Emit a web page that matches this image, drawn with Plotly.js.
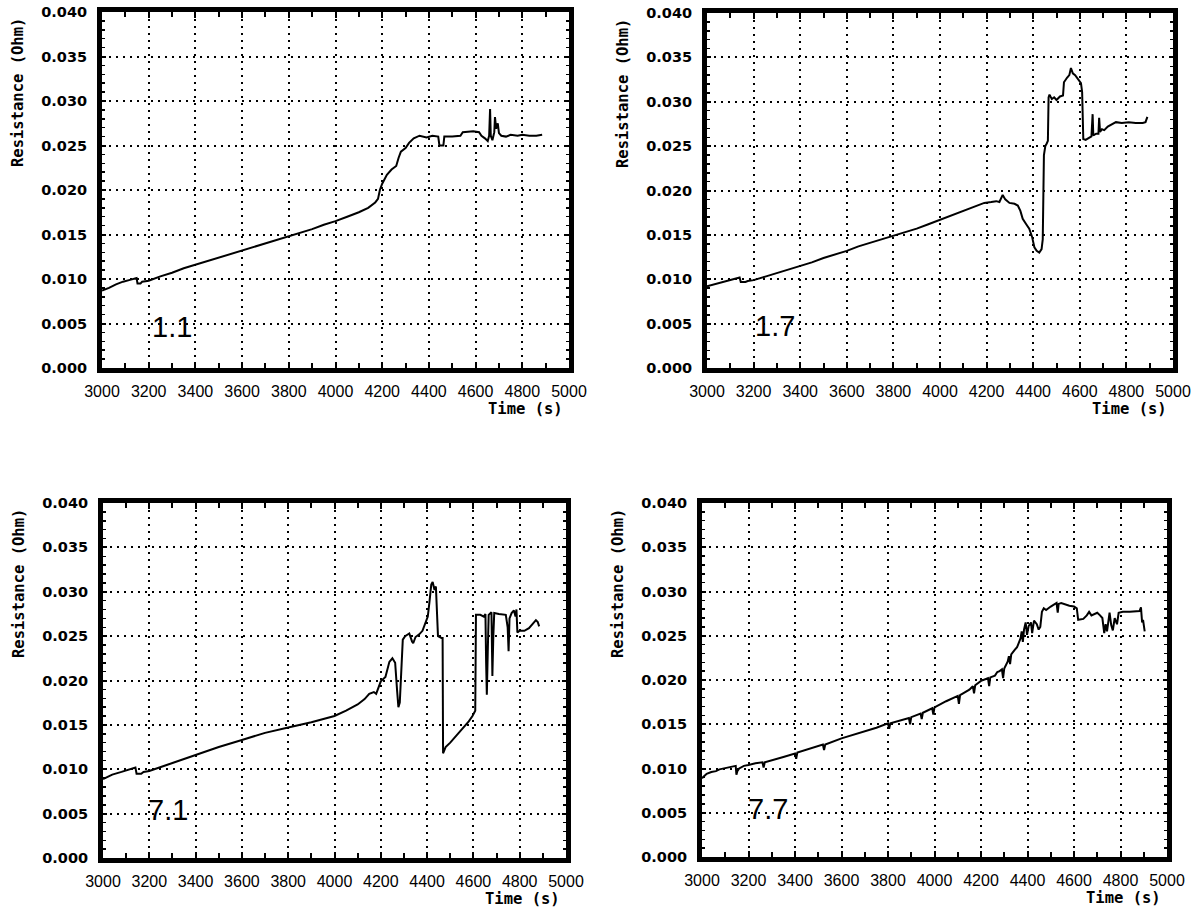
<!DOCTYPE html>
<html>
<head>
<meta charset="utf-8">
<script src="https://cdn.plot.ly/plotly-3.0.1.min.js"></script>
<style>
  html, body { margin: 0; padding: 0; background: #fff; }
  #chart { width: 1204px; height: 913px; }
</style>
</head>
<body>
<div id="chart"></div>
<script>
// Contact resistance versus time for four electrode positions.
const panelNames = ["1.1", "1.7", "7.1", "7.7"];

const time11 = [3000, 3030, 3060, 3090, 3120, 3140, 3148, 3152, 3165, 3172, 3200, 3250, 3300, 3350, 3400, 3450, 3500, 3550, 3600, 3650, 3700, 3750, 3800, 3850, 3900, 3950, 4000, 4050, 4100, 4140, 4170, 4182, 4190, 4200, 4220, 4240, 4260, 4270, 4280, 4300, 4315, 4335, 4360, 4390, 4415, 4440, 4445, 4462, 4466, 4500, 4535, 4545, 4590, 4615, 4625, 4640, 4652, 4658, 4662, 4665, 4672, 4680, 4683, 4688, 4695, 4700, 4710, 4730, 4750, 4780, 4800, 4830, 4860, 4885];
const res11 = [0.0087, 0.0090, 0.0094, 0.0097, 0.0099, 0.0101, 0.0101, 0.0095, 0.0095, 0.0097, 0.0098, 0.0103, 0.0107, 0.0112, 0.0116, 0.0120, 0.0124, 0.0128, 0.0132, 0.0136, 0.0140, 0.0144, 0.0148, 0.0152, 0.0156, 0.0161, 0.0165, 0.0170, 0.0175, 0.0180, 0.0186, 0.0190, 0.0200, 0.0207, 0.0217, 0.0223, 0.0227, 0.0236, 0.0243, 0.0247, 0.0253, 0.0258, 0.0261, 0.0259, 0.0261, 0.0260, 0.0250, 0.0250, 0.0260, 0.0260, 0.0261, 0.0265, 0.0266, 0.0265, 0.0261, 0.0258, 0.0255, 0.0261, 0.0291, 0.0261, 0.0256, 0.0265, 0.0282, 0.0269, 0.0275, 0.0264, 0.0261, 0.0260, 0.0262, 0.0261, 0.0262, 0.0261, 0.0261, 0.0262];

const time17 = [3000, 3040, 3080, 3120, 3140, 3145, 3165, 3175, 3200, 3250, 3300, 3350, 3400, 3450, 3500, 3550, 3600, 3650, 3700, 3750, 3800, 3850, 3900, 3950, 4000, 4050, 4100, 4150, 4190, 4220, 4241, 4255, 4262, 4269, 4280, 4298, 4320, 4334, 4345, 4355, 4370, 4383, 4395, 4405, 4415, 4426, 4436, 4441, 4446, 4452, 4458, 4463, 4466, 4470, 4480, 4490, 4500, 4515, 4528, 4532, 4545, 4555, 4562, 4570, 4580, 4595, 4605, 4610, 4613, 4615, 4625, 4640, 4650, 4655, 4658, 4670, 4680, 4683, 4687, 4695, 4705, 4720, 4735, 4755, 4780, 4810, 4840, 4870, 4882, 4890];
const res17 = [0.0092, 0.0095, 0.0098, 0.0101, 0.0102, 0.0097, 0.0097, 0.0098, 0.0099, 0.0103, 0.0107, 0.0111, 0.0115, 0.0119, 0.0124, 0.0128, 0.0132, 0.0137, 0.0141, 0.0145, 0.0149, 0.0153, 0.0157, 0.0162, 0.0167, 0.0172, 0.0177, 0.0182, 0.0186, 0.0187, 0.0188, 0.0187, 0.0192, 0.0195, 0.0190, 0.0186, 0.0185, 0.0183, 0.0177, 0.0168, 0.0162, 0.0157, 0.0148, 0.0136, 0.0132, 0.0130, 0.0134, 0.0145, 0.0240, 0.0250, 0.0253, 0.0256, 0.0305, 0.0308, 0.0303, 0.0305, 0.0302, 0.0306, 0.0307, 0.0322, 0.0327, 0.0330, 0.0338, 0.0332, 0.0330, 0.0324, 0.0321, 0.0311, 0.0280, 0.0258, 0.0257, 0.0260, 0.0261, 0.0286, 0.0262, 0.0264, 0.0264, 0.0282, 0.0266, 0.0269, 0.0268, 0.0272, 0.0274, 0.0277, 0.0276, 0.0277, 0.0276, 0.0276, 0.0277, 0.0283];

const time71 = [3000, 3040, 3080, 3120, 3140, 3145, 3165, 3175, 3200, 3300, 3400, 3500, 3600, 3700, 3800, 3900, 4000, 4050, 4100, 4130, 4150, 4170, 4180, 4190, 4200, 4220, 4237, 4250, 4262, 4270, 4276, 4282, 4290, 4295, 4305, 4323, 4335, 4340, 4350, 4366, 4380, 4395, 4403, 4410, 4418, 4424, 4432, 4438, 4442, 4447, 4462, 4467, 4469, 4480, 4500, 4520, 4540, 4560, 4580, 4596, 4608, 4611, 4630, 4645, 4652, 4655, 4658, 4662, 4666, 4678, 4682, 4686, 4690, 4710, 4740, 4748, 4752, 4756, 4765, 4775, 4782, 4786, 4790, 4800, 4820, 4840, 4860, 4870, 4878, 4884];
const res71 = [0.0089, 0.0094, 0.0097, 0.0100, 0.0102, 0.0095, 0.0095, 0.0097, 0.0098, 0.0107, 0.0116, 0.0125, 0.0133, 0.0141, 0.0147, 0.0153, 0.0160, 0.0166, 0.0173, 0.0179, 0.0185, 0.0187, 0.0185, 0.0193, 0.0199, 0.0204, 0.0221, 0.0225, 0.0220, 0.0190, 0.0170, 0.0175, 0.0215, 0.0246, 0.0250, 0.0253, 0.0244, 0.0242, 0.0249, 0.0252, 0.0256, 0.0266, 0.0272, 0.0288, 0.0308, 0.0311, 0.0302, 0.0306, 0.0285, 0.0250, 0.0248, 0.0248, 0.0118, 0.0125, 0.0130, 0.0136, 0.0141, 0.0148, 0.0154, 0.0160, 0.0166, 0.0274, 0.0274, 0.0272, 0.0275, 0.0220, 0.0184, 0.0232, 0.0274, 0.0277, 0.0205, 0.0250, 0.0276, 0.0275, 0.0274, 0.0260, 0.0233, 0.0270, 0.0276, 0.0279, 0.0272, 0.0280, 0.0254, 0.0256, 0.0256, 0.0259, 0.0265, 0.0268, 0.0266, 0.0261];

const time77 = [3000, 3020, 3040, 3060, 3075, 3090, 3110, 3130, 3145, 3148, 3152, 3160, 3180, 3200, 3230, 3260, 3265, 3270, 3300, 3350, 3400, 3405, 3410, 3450, 3500, 3520, 3525, 3530, 3600, 3650, 3700, 3750, 3800, 3805, 3810, 3850, 3890, 3895, 3900, 3940, 3945, 3950, 3990, 3995, 4000, 4050, 4100, 4105, 4110, 4150, 4165, 4170, 4175, 4200, 4230, 4235, 4240, 4260, 4270, 4280, 4290, 4295, 4300, 4315, 4320, 4325, 4330, 4345, 4355, 4370, 4375, 4380, 4385, 4392, 4398, 4405, 4415, 4420, 4428, 4440, 4448, 4455, 4462, 4470, 4480, 4500, 4515, 4525, 4530, 4534, 4545, 4565, 4580, 4600, 4612, 4618, 4640, 4655, 4665, 4675, 4690, 4700, 4712, 4722, 4730, 4736, 4742, 4748, 4753, 4760, 4767, 4775, 4785, 4792, 4810, 4840, 4870, 4882, 4888, 4893, 4897, 4904];
const res77 = [0.0089, 0.0094, 0.0096, 0.0097, 0.0099, 0.0100, 0.0101, 0.0102, 0.0103, 0.0093, 0.0097, 0.0100, 0.0103, 0.0104, 0.0106, 0.0107, 0.0101, 0.0107, 0.0109, 0.0113, 0.0117, 0.0111, 0.0118, 0.0121, 0.0125, 0.0127, 0.0121, 0.0127, 0.0134, 0.0138, 0.0142, 0.0146, 0.0151, 0.0145, 0.0151, 0.0154, 0.0157, 0.0150, 0.0158, 0.0162, 0.0156, 0.0163, 0.0168, 0.0161, 0.0169, 0.0176, 0.0182, 0.0173, 0.0183, 0.0189, 0.0193, 0.0185, 0.0194, 0.0199, 0.0202, 0.0193, 0.0203, 0.0205, 0.0209, 0.0210, 0.0212, 0.0202, 0.0213, 0.0221, 0.0227, 0.0218, 0.0229, 0.0234, 0.0237, 0.0247, 0.0255, 0.0243, 0.0257, 0.0265, 0.0251, 0.0261, 0.0265, 0.0253, 0.0267, 0.0263, 0.0257, 0.0260, 0.0277, 0.0281, 0.0279, 0.0283, 0.0286, 0.0287, 0.0276, 0.0286, 0.0287, 0.0285, 0.0284, 0.0283, 0.0281, 0.0268, 0.0269, 0.0273, 0.0277, 0.0273, 0.0275, 0.0276, 0.0273, 0.0270, 0.0253, 0.0263, 0.0255, 0.0268, 0.0276, 0.0262, 0.0256, 0.0270, 0.0263, 0.0276, 0.0277, 0.0277, 0.0278, 0.0278, 0.0282, 0.0265, 0.0268, 0.0255];

const xTicks = [3000, 3200, 3400, 3600, 3800, 4000, 4200, 4400, 4600, 4800, 5000];
const yTicks = [0.000, 0.005, 0.010, 0.015, 0.020, 0.025, 0.030, 0.035, 0.040];
const xTitle = "Time (s)";
const yTitle = "Resistance (Ohm)";

// Plot frames in pixels: [left, right, top, bottom]
const W = 1204, H = 913;
const frames = [
  [102, 569, 12, 368],
  [707, 1173, 13, 368],
  [103, 566, 503, 858],
  [702, 1167, 503, 857]
];
const labelPos = [[3300, 0.0046], [3290, 0.0047], [3280, 0.0054], [3285, 0.0054]];

const series = [[time11, res11], [time17, res17], [time71, res71], [time77, res77]];

const tickFontX = { family: "'Liberation Sans Narrow', 'Arial Narrow', 'Liberation Sans', sans-serif", size: 16, color: "#000" };
const tickFontY = { family: "'DejaVu Sans', sans-serif", size: 14.5, color: "#000", weight: "bold" };
const titleFont = { family: "'DejaVu Sans Mono', monospace", size: 15.5, color: "#000", weight: "bold" };

const layout = {
  width: W, height: H,
  margin: { l: 0, r: 0, t: 0, b: 0 },
  paper_bgcolor: "#fff", plot_bgcolor: "#fff",
  showlegend: false,
  annotations: [],
};

const traces = [];
frames.forEach((f, i) => {
  const n = i === 0 ? "" : String(i + 1);
  const [l, r, t, b] = f;
  traces.push({
    x: series[i][0], y: series[i][1],
    xaxis: "x" + n, yaxis: "y" + n,
    type: "scatter", mode: "lines",
    line: { color: "#000", width: 2 },
    hoverinfo: "skip"
  });
  layout["xaxis" + n] = {
    domain: [l / W, r / W], anchor: "y" + n,
    range: [3000, 5000], tickvals: xTicks, ticktext: xTicks.map(String),
    showgrid: true, gridcolor: "#000", gridwidth: 2, griddash: "2px,5px",
    showline: true, linecolor: "#000", linewidth: 5, mirror: "ticks",
    ticks: "inside", ticklen: 6, tickwidth: 2, tickcolor: "#000",
    minor: { dtick: 100, tick0: 3000, ticks: "inside", ticklen: 5, tickwidth: 2, tickcolor: "#000", showgrid: false },
    tickfont: tickFontX, ticklabelstandoff: 5,
    zeroline: false, fixedrange: true
  };
  layout["yaxis" + n] = {
    domain: [1 - b / H, 1 - t / H], anchor: "x" + n,
    range: [0, 0.04], tickvals: yTicks, ticktext: yTicks.map(v => v.toFixed(3)),
    showgrid: true, gridcolor: "#000", gridwidth: 2, griddash: "2px,5px",
    showline: true, linecolor: "#000", linewidth: 5, mirror: "ticks",
    ticks: "inside", ticklen: 4, tickwidth: 2, tickcolor: "#000",
    minor: { dtick: 0.001, tick0: 0, ticks: "inside", ticklen: 3, tickwidth: 1.5, tickcolor: "#000", showgrid: false },
    tickfont: tickFontY, ticklabelstandoff: 7,
    zeroline: false, fixedrange: true
  };
  // panel tag
  layout.annotations.push({
    xref: "x" + n, yref: "y" + n, x: labelPos[i][0], y: labelPos[i][1],
    text: panelNames[i], showarrow: false, xanchor: "center", yanchor: "middle",
    font: { family: "'Liberation Sans', Arial, sans-serif", size: 29, color: "#000" }
  });
  // y-axis title, placed near the top of the frame
  layout.annotations.push({
    xref: "paper", yref: "paper", x: (l - 84) / W, y: 1 - (t + 81) / H,
    text: yTitle, textangle: -90, showarrow: false,
    xanchor: "center", yanchor: "middle", font: titleFont
  });
  // x-axis title, right aligned with the frame
  layout.annotations.push({
    xref: "paper", yref: "paper", x: (r - 4) / W, y: 1 - (b + 41) / H,
    text: xTitle, showarrow: false,
    xanchor: "right", yanchor: "middle", font: titleFont
  });
});

Plotly.newPlot("chart", traces, layout, { staticPlot: true, displayModeBar: false });
</script>
</body>
</html>
